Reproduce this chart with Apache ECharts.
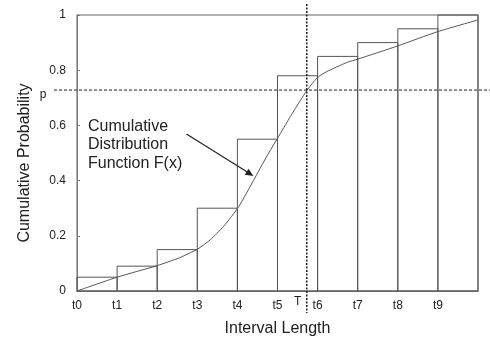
<!DOCTYPE html>
<html>
<head>
<meta charset="utf-8">
<script src="https://cdn.jsdelivr.net/npm/echarts@6/dist/echarts.min.js"></script>
<style>
  html, body { margin: 0; padding: 0; background: #fff; }
  #main { width: 490px; height: 342px; }
</style>
</head>
<body>
<div id="main"></div>
<script>
// tick labels at the bar edges
const tickLabels = ['t0', 't1', 't2', 't3', 't4', 't5', 't6', 't7', 't8', 't9'];
// height of each interval's step (t_i .. t_i+1)
const stepHeights = [0.05, 0.09, 0.15, 0.30, 0.55, 0.78, 0.85, 0.90, 0.95, 1.0];
// points of the cumulative distribution curve F(x)
const cdfX = [0, 1, 2, 2.55, 2.83, 3, 3.32, 3.66, 4.03, 4.4, 4.74, 5, 5.32, 5.57, 5.73, 5.9, 6.02, 6.23, 6.73, 7, 8, 9, 10];
const cdfY = [0, 0.05, 0.092, 0.12, 0.139, 0.151, 0.185, 0.235, 0.305, 0.40, 0.49, 0.553, 0.632, 0.69, 0.726, 0.758, 0.776, 0.795, 0.828, 0.84, 0.888, 0.94, 0.982];
// threshold p and interval T
const pValue = 0.728;
const tValue = 5.73;
// annotation arrow (data coords)
const arrowFrom = [2.73, 0.569];
const arrowTo = [4.40, 0.417];

const font = '"Liberation Sans", Arial, sans-serif';
const chart = echarts.init(document.getElementById('main'), null, { renderer: 'canvas' });

const stepData = stepHeights.map((h, i) => [i, i + 1, h]);
const cdfData = cdfX.map((x, i) => [x, cdfY[i]]);

const option = {
  backgroundColor: '#fff',
  animation: false,
  grid: {
    left: 77, right: 12, top: 15, bottom: 51,
    show: true, borderColor: '#999', borderWidth: 1.5
  },
  xAxis: {
    type: 'value', min: 0, max: 10, interval: 1,
    name: 'Interval Length', nameLocation: 'middle', nameGap: 30,
    nameTextStyle: { fontFamily: font, fontSize: 16, color: '#222' },
    axisLine: { lineStyle: { color: '#777', width: 1 } },
    axisTick: { show: false },
    splitLine: { show: false },
    axisLabel: {
      margin: 9, fontFamily: font, fontSize: 12, color: '#222',
      formatter: v => tickLabels[v] || ''
    }
  },
  yAxis: {
    type: 'value', min: 0, max: 1, interval: 0.2,
    axisLine: { show: true, lineStyle: { color: '#777', width: 1 } },
    axisTick: { show: true, inside: true, length: 3, lineStyle: { color: '#777' } },
    splitLine: { show: false },
    axisLabel: {
      margin: 11, fontFamily: font, fontSize: 12, color: '#222',
      formatter: v => (v === 0 || v === 1) ? String(v) : v.toFixed(1)
    }
  },
  series: [
    {
      type: 'custom',
      data: stepData,
      renderItem: function (params, api) {
        const p0 = api.coord([api.value(0), api.value(2)]);
        const p1 = api.coord([api.value(1), 0]);
        return {
          type: 'rect',
          shape: { x: p0[0], y: p0[1], width: p1[0] - p0[0], height: p1[1] - p0[1] },
          style: { fill: 'none', stroke: '#555', lineWidth: 1 }
        };
      },
      z: 2
    },
    {
      type: 'line',
      data: cdfData,
      smooth: 0.2,
      showSymbol: false,
      lineStyle: { color: '#555', width: 1 },
      z: 3
    }
  ]
};
chart.setOption(option);

// overlay: dashed guides, labels, annotation
const pL = chart.convertToPixel({ gridIndex: 0 }, [0, pValue]);
const tB = chart.convertToPixel({ gridIndex: 0 }, [tValue, 0]);
const tT = chart.convertToPixel({ gridIndex: 0 }, [tValue, 1]);
const a0 = chart.convertToPixel({ gridIndex: 0 }, arrowFrom);
const a1 = chart.convertToPixel({ gridIndex: 0 }, arrowTo);
const ang = Math.atan2(a1[1] - a0[1], a1[0] - a0[0]);
const ah = 8, aw = 3.5;
const head = [
  a1,
  [a1[0] - ah * Math.cos(ang) + aw * Math.sin(ang), a1[1] - ah * Math.sin(ang) - aw * Math.cos(ang)],
  [a1[0] - ah * Math.cos(ang) - aw * Math.sin(ang), a1[1] - ah * Math.sin(ang) + aw * Math.cos(ang)]
];

chart.setOption({
  graphic: [
    { type: 'line', shape: { x1: 54, y1: pL[1], x2: 490, y2: pL[1] },
      style: { stroke: '#222', lineWidth: 1, lineDash: [3, 2] }, z: 10 },
    { type: 'line', shape: { x1: tB[0], y1: tT[1] - 11, x2: tB[0], y2: tB[1] + 22 },
      style: { stroke: '#222', lineWidth: 1.5, lineDash: [2, 1.5] }, z: 10 },
    { type: 'text', x: 43, y: pL[1] + 5, style: { text: 'p', font: '12px ' + font, fill: '#222', align: 'center', verticalAlign: 'middle' } },
    { type: 'text', x: tB[0] - 9, y: tB[1] + 11, style: { text: 'T', font: '12px ' + font, fill: '#222', align: 'center', verticalAlign: 'middle' } },
    { type: 'text', x: 25, y: 163, rotation: Math.PI / 2,
      style: { text: 'Cumulative Probability', font: '16px ' + font, fill: '#222', align: 'center', verticalAlign: 'middle' } },
    { type: 'text', x: 88, y: 117,
      style: { text: 'Cumulative\nDistribution\nFunction F(x)', font: '16px ' + font, lineHeight: 18.5, fill: '#222', align: 'left', verticalAlign: 'top' } },
    { type: 'line', shape: { x1: a0[0], y1: a0[1], x2: a1[0] - 4 * Math.cos(ang), y2: a1[1] - 4 * Math.sin(ang) },
      style: { stroke: '#222', lineWidth: 1.2 }, z: 10 },
    { type: 'polygon', shape: { points: head }, style: { fill: '#222' }, z: 10 }
  ]
});
</script>
</body>
</html>
